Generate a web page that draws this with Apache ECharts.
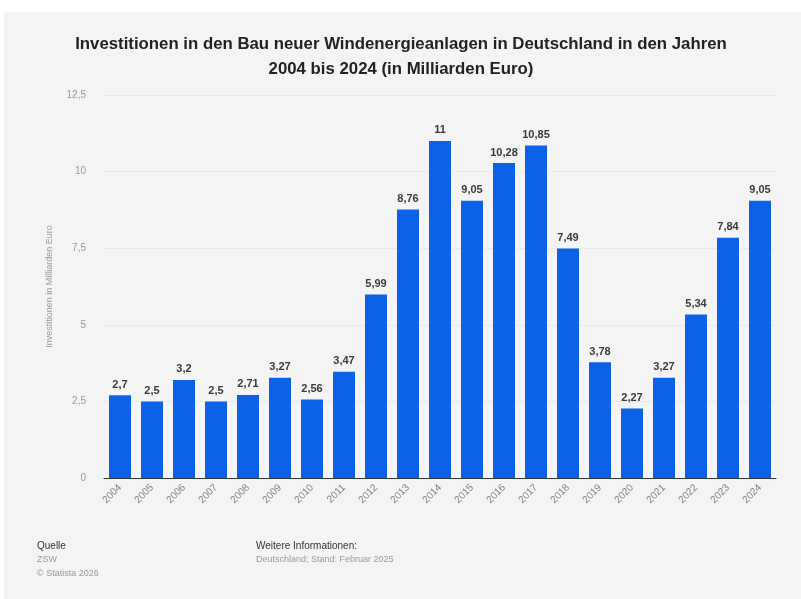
<!DOCTYPE html>
<html>
<head>
<meta charset="utf-8">
<script src="https://cdn.jsdelivr.net/npm/echarts@6/dist/echarts.min.js"></script>
<style>
  html, body { margin: 0; padding: 0; background: #ffffff; }
  #chart { width: 801px; height: 599px; }
</style>
</head>
<body>
<div id="chart"></div>
<script>
// Investitionen in neue Windenergieanlagen (Mrd. Euro)
const years = ['2004','2005','2006','2007','2008','2009','2010','2011','2012','2013','2014',
               '2015','2016','2017','2018','2019','2020','2021','2022','2023','2024'];
const investments = [2.7, 2.5, 3.2, 2.5, 2.71, 3.27, 2.56, 3.47, 5.99, 8.76, 11,
                     9.05, 10.28, 10.85, 7.49, 3.78, 2.27, 3.27, 5.34, 7.84, 9.05];
const yTicks = [0, 2.5, 5, 7.5, 10, 12.5];

const titleText = 'Investitionen in den Bau neuer Windenergieanlagen in Deutschland in den Jahren\n2004 bis 2024 (in Milliarden Euro)';
const yAxisName = 'Investitionen in Milliarden Euro';

const de = v => String(v).replace('.', ',');
const font = '"Liberation Sans", Arial, Helvetica, sans-serif';

const chart = echarts.init(document.getElementById('chart'), null, { renderer: 'canvas' });

chart.setOption({
  backgroundColor: '#ffffff',
  animation: false,
  textStyle: { fontFamily: font },
  graphic: [
    { type: 'rect', z: -10, shape: { x: 4, y: 12, width: 797, height: 587 }, style: { fill: '#f4f4f4' } },
    { type: 'text', x: 401, y: 32, style: { text: titleText, align: 'center', font: 'bold 16.8px ' + font, lineHeight: 25, fill: '#222222' } },
    { type: 'text', left: 37, top: 541, style: { text: 'Quelle', font: '10px ' + font, fill: '#333333' } },
    { type: 'text', left: 37, top: 555, style: { text: 'ZSW', font: '9px ' + font, fill: '#9a9a9a' } },
    { type: 'text', left: 37, top: 569, style: { text: '© Statista 2026', font: '9px ' + font, fill: '#9a9a9a' } },
    { type: 'text', left: 256, top: 541, style: { text: 'Weitere Informationen:', font: '10px ' + font, fill: '#333333' } },
    { type: 'text', left: 256, top: 555, style: { text: 'Deutschland; Stand: Februar 2025', font: '9px ' + font, fill: '#9a9a9a' } }
  ],
  grid: { left: 104, right: 25, top: 95, bottom: 121, containLabel: false },
  xAxis: {
    type: 'category',
    data: years,
    axisLine: { show: true, lineStyle: { color: '#333333', width: 1 } },
    axisTick: { show: false },
    axisLabel: { rotate: 45, color: '#808080', fontSize: 10, margin: 8, interval: 0 }
  },
  yAxis: {
    type: 'value',
    min: 0,
    max: 12.5,
    interval: 2.5,
    name: yAxisName,
    nameLocation: 'middle',
    nameGap: 50,
    nameTextStyle: { color: '#9a9a9a', fontSize: 9 },
    axisLine: { show: false },
    axisTick: { show: false },
    axisLabel: { color: '#9a9a9a', fontSize: 10, margin: 18, formatter: v => yTicks.includes(v) ? de(v) : '' },
    splitLine: { lineStyle: { color: '#dedede', width: 1, type: 'dotted' } }
  },
  series: [{
    type: 'bar',
    data: investments,
    barWidth: 22,
    itemStyle: { color: '#0b62e6' },
    label: {
      show: true,
      position: 'top',
      distance: 5,
      color: '#3a3a3a',
      fontSize: 11,
      fontWeight: 'bold',
      formatter: p => de(p.value)
    }
  }]
});
</script>
</body>
</html>
